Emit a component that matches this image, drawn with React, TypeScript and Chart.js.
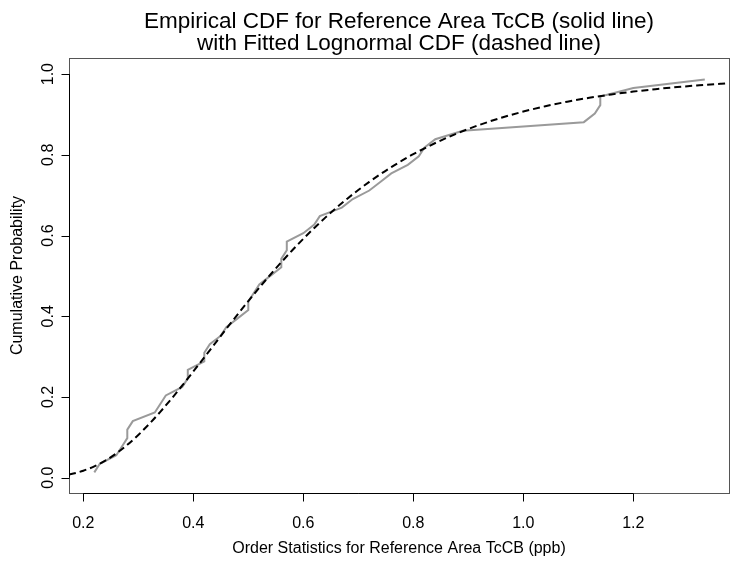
import React, { useEffect, useRef } from "react";
import { Chart, registerables } from "chart.js";

Chart.register(...registerables);

// Reference area TcCB order statistics (ppb)
const tccbValues = [
  0.22, 0.23, 0.26, 0.27, 0.28, 0.28, 0.29, 0.33, 0.34, 0.35, 0.38, 0.39, 0.39,
  0.42, 0.42, 0.43, 0.45, 0.46, 0.48, 0.5, 0.5, 0.51, 0.52, 0.54, 0.56, 0.56,
  0.57, 0.57, 0.6, 0.62, 0.63, 0.67, 0.69, 0.72, 0.74, 0.76, 0.79, 0.81, 0.82,
  0.84, 0.89, 1.11, 1.13, 1.14, 1.14, 1.2, 1.33,
];
// Empirical cumulative probabilities (plotting positions)
const empiricalProbs = [
  0.0132, 0.0344, 0.0556, 0.0767, 0.0979, 0.119, 0.1402, 0.1614, 0.1825,
  0.2037, 0.2249, 0.246, 0.2672, 0.2884, 0.3095, 0.3307, 0.3519, 0.373,
  0.3942, 0.4153, 0.4365, 0.4577, 0.4788, 0.5, 0.5212, 0.5423, 0.5635,
  0.5847, 0.6058, 0.627, 0.6481, 0.6693, 0.6905, 0.7116, 0.7328, 0.754,
  0.7751, 0.7963, 0.8175, 0.8386, 0.8598, 0.881, 0.9021, 0.9233, 0.9444,
  0.9656, 0.9868,
];
// Fitted lognormal CDF
const fittedX = [
  0.174, 0.18, 0.2, 0.22, 0.24, 0.26, 0.28, 0.3, 0.32, 0.34, 0.36, 0.38, 0.4,
  0.42, 0.44, 0.46, 0.48, 0.5, 0.52, 0.54, 0.56, 0.58, 0.6, 0.62, 0.64, 0.66,
  0.68, 0.7, 0.72, 0.74, 0.76, 0.78, 0.8, 0.84, 0.88, 0.92, 0.96, 1.0, 1.04,
  1.08, 1.12, 1.16, 1.2, 1.24, 1.28, 1.32, 1.36, 1.374,
];
const fittedY = [
  0.0079, 0.0096, 0.0172, 0.028, 0.0422, 0.06, 0.0813, 0.1059, 0.1333, 0.1632,
  0.1951, 0.2285, 0.263, 0.2981, 0.3335, 0.3687, 0.4034, 0.4375, 0.4707,
  0.5029, 0.5338, 0.5635, 0.5919, 0.6188, 0.6444, 0.6686, 0.6914, 0.7129,
  0.733, 0.7519, 0.7696, 0.7861, 0.8016, 0.8293, 0.8533, 0.8741, 0.8919,
  0.9072, 0.9204, 0.9317, 0.9414, 0.9496, 0.9567, 0.9628, 0.968, 0.9724,
  0.9762, 0.9774,
];
const xTicks = [0.2, 0.4, 0.6, 0.8, 1.0, 1.2];
const yTicks = [0.0, 0.2, 0.4, 0.6, 0.8, 1.0];

const titleLines = [
  "Empirical CDF for Reference Area TcCB (solid line)",
  "with Fitted Lognormal CDF (dashed line)",
];
const xLabel = "Order Statistics for Reference Area TcCB (ppb)";
const yLabel = "Cumulative Probability";

const FONT = '"Liberation Sans", Arial, Helvetica, sans-serif';

const rAxesPlugin = {
  id: "rAxes",
  afterDraw(chart: any) {
    const ctx = chart.ctx;
    const area = chart.chartArea;
    const xs = chart.scales.x;
    const ys = chart.scales.y;
    ctx.save();
    // box
    ctx.strokeStyle = "#555555";
    ctx.lineWidth = 1;
    ctx.strokeRect(
      Math.round(area.left) + 0.5,
      Math.round(area.top) + 0.5,
      Math.round(area.right - area.left),
      Math.round(area.bottom - area.top)
    );
    // bottom axis
    ctx.strokeStyle = "#000000";
    ctx.beginPath();
    const x0 = xs.getPixelForValue(xTicks[0]);
    const x1 = xs.getPixelForValue(xTicks[xTicks.length - 1]);
    const by = Math.round(area.bottom) + 0.5;
    ctx.moveTo(x0, by);
    ctx.lineTo(x1, by);
    xTicks.forEach((t) => {
      const px = Math.round(xs.getPixelForValue(t)) + 0.5;
      ctx.moveTo(px, by);
      ctx.lineTo(px, by + 8);
    });
    ctx.stroke();
    // left axis
    ctx.beginPath();
    const lx = Math.round(area.left) + 0.5;
    ctx.moveTo(lx, ys.getPixelForValue(yTicks[0]));
    ctx.lineTo(lx, ys.getPixelForValue(yTicks[yTicks.length - 1]));
    yTicks.forEach((t) => {
      const py = Math.round(ys.getPixelForValue(t)) + 0.5;
      ctx.moveTo(lx, py);
      ctx.lineTo(lx - 8, py);
    });
    ctx.stroke();
    // tick labels
    ctx.fillStyle = "#000000";
    ctx.font = `16px ${FONT}`;
    ctx.textAlign = "center";
    ctx.textBaseline = "alphabetic";
    xTicks.forEach((t) => {
      ctx.fillText(t.toFixed(1), xs.getPixelForValue(t), 528);
    });
    yTicks.forEach((t) => {
      ctx.save();
      ctx.translate(53, ys.getPixelForValue(t));
      ctx.rotate(-Math.PI / 2);
      ctx.fillText(t.toFixed(1), 0, 0);
      ctx.restore();
    });
    // axis titles
    ctx.fillText(xLabel, (area.left + area.right) / 2, 553);
    ctx.save();
    ctx.translate(22, (area.top + area.bottom) / 2);
    ctx.rotate(-Math.PI / 2);
    ctx.fillText(yLabel, 0, 0);
    ctx.restore();
    // main title
    ctx.font = `22.5px ${FONT}`;
    const cx = (area.left + area.right) / 2;
    ctx.fillText(titleLines[0], cx, 28);
    ctx.fillText(titleLines[1], cx, 50);
    ctx.restore();
  },
};

export default function App() {
  const canvasRef = useRef<HTMLCanvasElement | null>(null);
  useEffect(() => {
    if (!canvasRef.current) return;
    const empirical = tccbValues.map((x, i) => ({ x, y: empiricalProbs[i] }));
    const fitted = fittedX.map((x, i) => ({ x, y: fittedY[i] }));
    const chart = new Chart(canvasRef.current, {
      type: "line",
      data: {
        datasets: [
          {
            label: "Fitted Lognormal CDF",
            data: fitted,
            borderColor: "#000000",
            borderWidth: 2,
            borderDash: [7, 4],
            pointRadius: 0,
            cubicInterpolationMode: "monotone",
            fill: false,
          },
          {
            label: "Empirical CDF",
            data: empirical,
            borderColor: "#9a9a9a",
            borderWidth: 2,
            pointRadius: 0,
            tension: 0,
            fill: false,
          },
        ],
      },
      options: {
        animation: false,
        responsive: false,
        maintainAspectRatio: false,
        layout: { padding: { left: 69, right: 6, top: 58, bottom: 74 } },
        plugins: {
          legend: { display: false },
          title: { display: false },
          tooltip: { enabled: false },
        },
        scales: {
          x: { type: "linear", display: false, min: 0.174, max: 1.374 },
          y: { type: "linear", display: false, min: -0.038, max: 1.04 },
        },
      },
      plugins: [rAxesPlugin],
    });
    return () => chart.destroy();
  }, []);
  return (
    <div style={{ position: "fixed", left: 0, top: 0, width: 735, height: 567, background: "#ffffff" }}>
      <canvas ref={canvasRef} width={735} height={567} style={{ width: 735, height: 567 }} />
    </div>
  );
}
